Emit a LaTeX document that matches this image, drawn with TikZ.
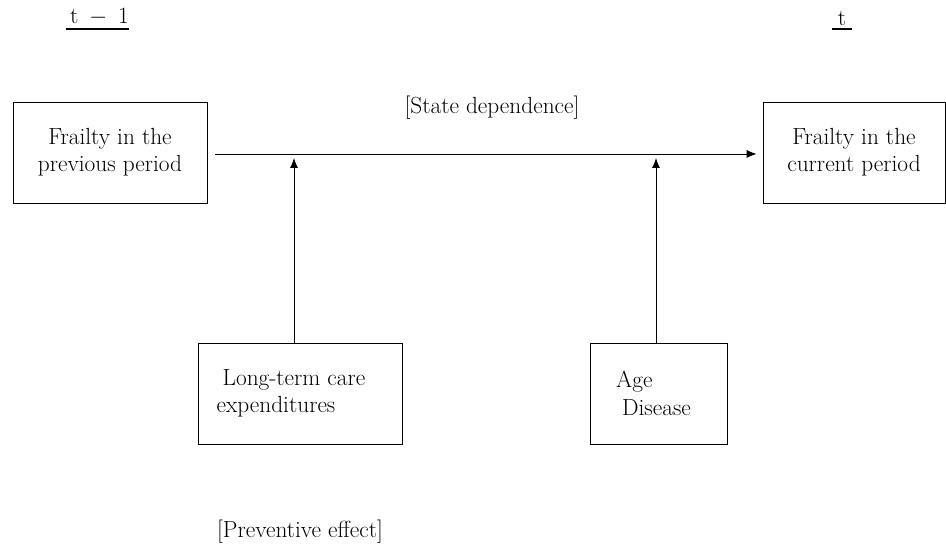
\documentclass[tikz,border=0pt]{standalone}
\usetikzlibrary{arrows.meta}
\newcommand{\lblfont}{\fontsize{17.5}{20.5}\selectfont}

\begin{document}
\begin{tikzpicture}[x=0.75pt,y=-0.75pt,
    every node/.style={font=\lblfont},
    box/.style={draw, line width=0.6pt, inner sep=0pt},
    link/.style={line width=0.6pt, -{Latex[length=7.5pt,width=6pt]}}]
    % fixed page size
    \useasboundingbox (0,0) rectangle (946,545);

    % time labels (underlined)
    \node[inner sep=0pt, minimum width=61*0.75pt, anchor=south] (tprev) at (97.5,26) {\,t \,$-$\, 1};
    \node[inner sep=0pt, minimum width=20*0.75pt, anchor=south] (tcur) at (842,26) {t};
    \draw[line width=1.5pt] ([yshift=-2pt]tprev.south west) -- ([yshift=-2pt]tprev.south east);
    \draw[line width=1.5pt] ([yshift=-2pt]tcur.south west) -- ([yshift=-2pt]tcur.south east);

    % frailty boxes
    \node[box, minimum width=194*0.75pt, minimum height=101*0.75pt, align=center] (prev) at (110,152.5)
        {Frailty in the\\previous period};
    \node[box, minimum width=182*0.75pt, minimum height=101*0.75pt, align=center] (curr) at (854,152.5)
        {Frailty in the\\current period};

    % state dependence
    \draw[link, shorten <=6pt, shorten >=4.5pt] ([yshift=-1.1pt]prev.east) -- ([yshift=-1.1pt]curr.west);
    \node (state) at (492,108) {[State dependence]};

    % factor boxes
    \node[box, minimum width=204*0.75pt, minimum height=101*0.75pt, align=left] (ltc) at (300,393.5)
        {\hspace*{4.5pt}Long-term care\hspace*{13.5pt}\\expenditures};
    \node[box, minimum width=137*0.75pt, minimum height=101*0.75pt, align=left] (age) at (658.5,393.5)
        {Age\\\hspace*{4.5pt}Disease\hspace*{7.5pt}};

    % points where the factors act on the arrow
    \coordinate (p1) at (294,158);
    \coordinate (p2) at (656,158);
    \draw[link] (ltc.north -| p1) -- (p1);
    \draw[link] (age.north -| p2) -- (p2);

    \node (prevent) at (300,532) {[Preventive effect]};
\end{tikzpicture}
\end{document}
